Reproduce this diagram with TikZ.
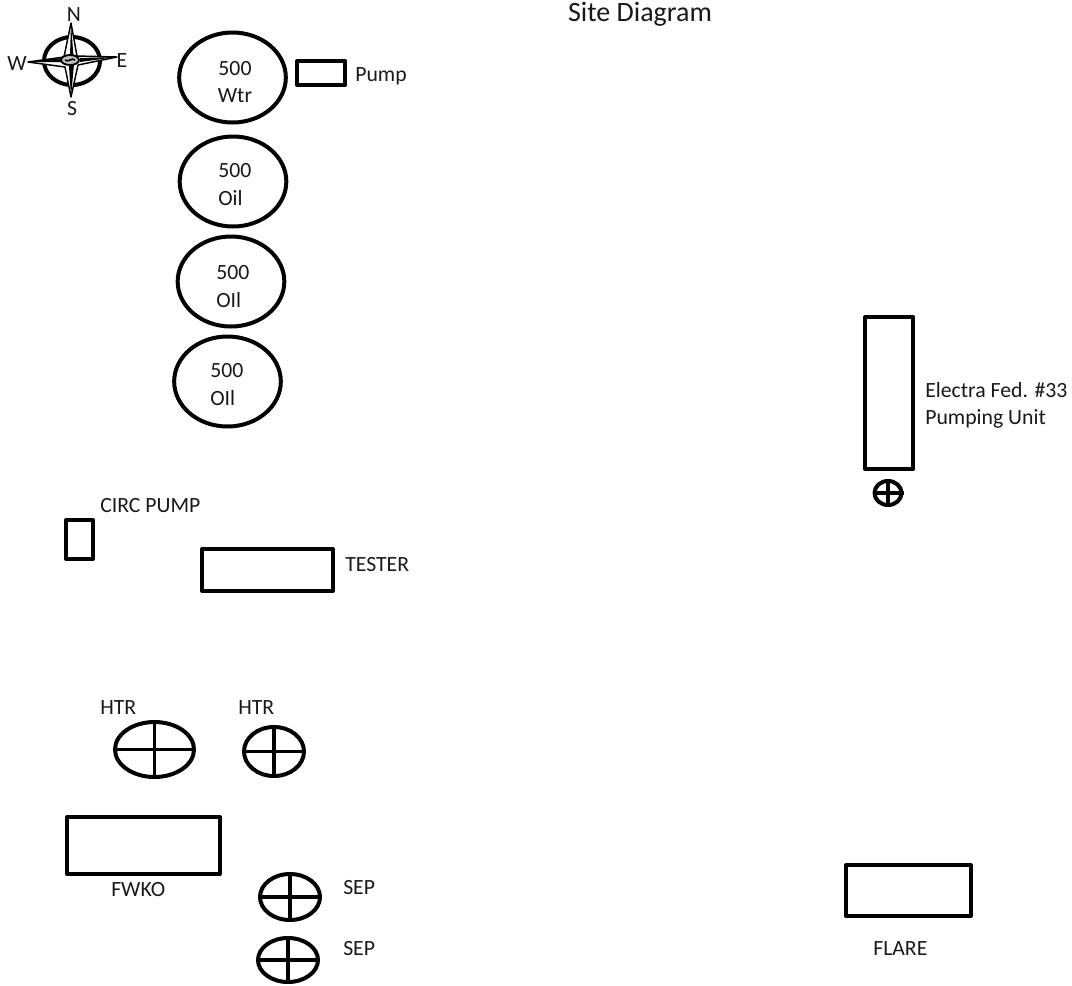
\documentclass[tikz,border=0pt]{standalone}
\usepackage{fontspec}
\setmainfont{Carlito}
\usetikzlibrary{shapes.geometric}
\tikzset{
  x=0.75pt,y=-0.75pt,
  outl/.style={draw=black,line width=3pt,fill=none,line join=round},
  barline/.style={draw=black,line width=2.6pt},
  lbl/.style={font=\fontsize{16.3}{20}\selectfont,inner sep=0pt,text=black!90,anchor=base west},
  clbl/.style={lbl,anchor=base},
  tank/.style={outl,ellipse,inner sep=0pt,minimum width=80pt,minimum height=67.5pt},
  box/.style={outl,rectangle,inner sep=0pt},
}
\newcommand{\crossed}[5]{% name, x, y, path width, path height (px)
  \node[outl,ellipse,inner sep=0pt,minimum width=#4*0.75pt,minimum height=#5*0.75pt] (#1) at (#2,#3) {};
  \draw[barline] (#1.north) -- (#1.south);
  \draw[barline] (#1.west) -- (#1.east);
}
\begin{document}
\begin{tikzpicture}
\useasboundingbox (0,0) rectangle (1072,986);
\fill[white] (0,0) rectangle (1072,986);

\node[clbl,font=\fontsize{21}{24}\selectfont] (title) at (640,21) {Site Diagram};

% compass
\draw[black,line width=3pt] (72,61) ellipse [x radius=28,y radius=24];
\draw[black,line width=1.1pt,fill=white,line join=round]
  (71,23) -- (77,56) -- (117,57) -- (78,65) -- (71,97) -- (65,67) -- (28,62) -- (64,57) -- cycle;
\fill[black] (71,23) -- (73.5,57) -- (70,57) -- cycle;
\fill[black] (71,97) -- (74,64) -- (69,66) -- cycle;
\fill[black] (28,62) -- (62,58) -- (62,62) -- cycle;
\fill[black] (117,57) -- (80,58) -- (80,62) -- cycle;
\draw[black,line width=1.4pt,fill=black!25] (70,60) ellipse [x radius=9,y radius=5];
\draw[black,line width=1.2pt] (65,60) .. controls (68,63) and (72,57) .. (75,60);
\node[clbl] (n) at (74,21) {N};
\node[clbl] (s) at (72,115) {S};
\node[clbl] (w) at (17,70) {W};
\node[clbl] (e) at (122,67) {E};

% tanks
\node[tank] (t1) at (232.5,77.5) {};
\node[tank] (t2) at (233,181.5) {};
\node[tank] (t3) at (231,281.5) {};
\node[tank] (t4) at (227.5,381.5) {};
\node[clbl] (t1a) at (235,75) {500};
\node[clbl] (t1b) at (235,102) {Wtr};
\node[lbl] (t2a) at (218,177) {500};
\node[lbl] (t2b) at (218,205) {Oil};
\node[lbl] (t3a) at (216,279) {500};
\node[lbl] (t3b) at (216,307) {OIl};
\node[lbl] (t4a) at (210,377) {500};
\node[lbl] (t4b) at (210,405) {OIl};

% pump
\node[box,minimum width=36pt,minimum height=18pt] (pump) at (321,73) {};
\node[lbl] (pumpl) at (355,81) {Pump};

% pumping unit
\node[box,minimum width=36pt,minimum height=114pt] (unit) at (889,393) {};
\node[lbl] (unita) at (925,397) {Electra Fed. \#33};
\node[lbl] (unitb) at (925,424) {Pumping Unit};
\crossed{wh}{888}{493}{27}{24}

% circ pump, tester
\node[box,minimum width=20.25pt,minimum height=29.25pt] (circ) at (79.5,539.5) {};
\node[lbl] (circl) at (100,512) {CIRC PUMP};
\node[box,minimum width=98.25pt,minimum height=31.5pt] (tester) at (267.5,570) {};
\node[lbl] (testerl) at (345,571) {TESTER};

% heaters
\crossed{h1}{154.5}{749.5}{79}{55}
\crossed{h2}{274}{751.5}{60}{49}
\node[lbl] (h1l) at (100,714) {HTR};
\node[lbl] (h2l) at (238,714) {HTR};

% FWKO
\node[box,minimum width=114.75pt,minimum height=42.75pt] (fwko) at (143.5,845.5) {};
\node[lbl] (fwkol) at (111,896) {FWKO};

% separators
\crossed{s1}{290}{897}{60}{46}
\crossed{s2}{288}{960}{60}{44}
\node[lbl] (s1l) at (343,894) {SEP};
\node[lbl] (s2l) at (343,955) {SEP};

% flare
\node[box,minimum width=93.75pt,minimum height=38.25pt] (flare) at (908.5,890.5) {};
\node[lbl] (flarel) at (873,955) {FLARE};
\end{tikzpicture}
\end{document}
